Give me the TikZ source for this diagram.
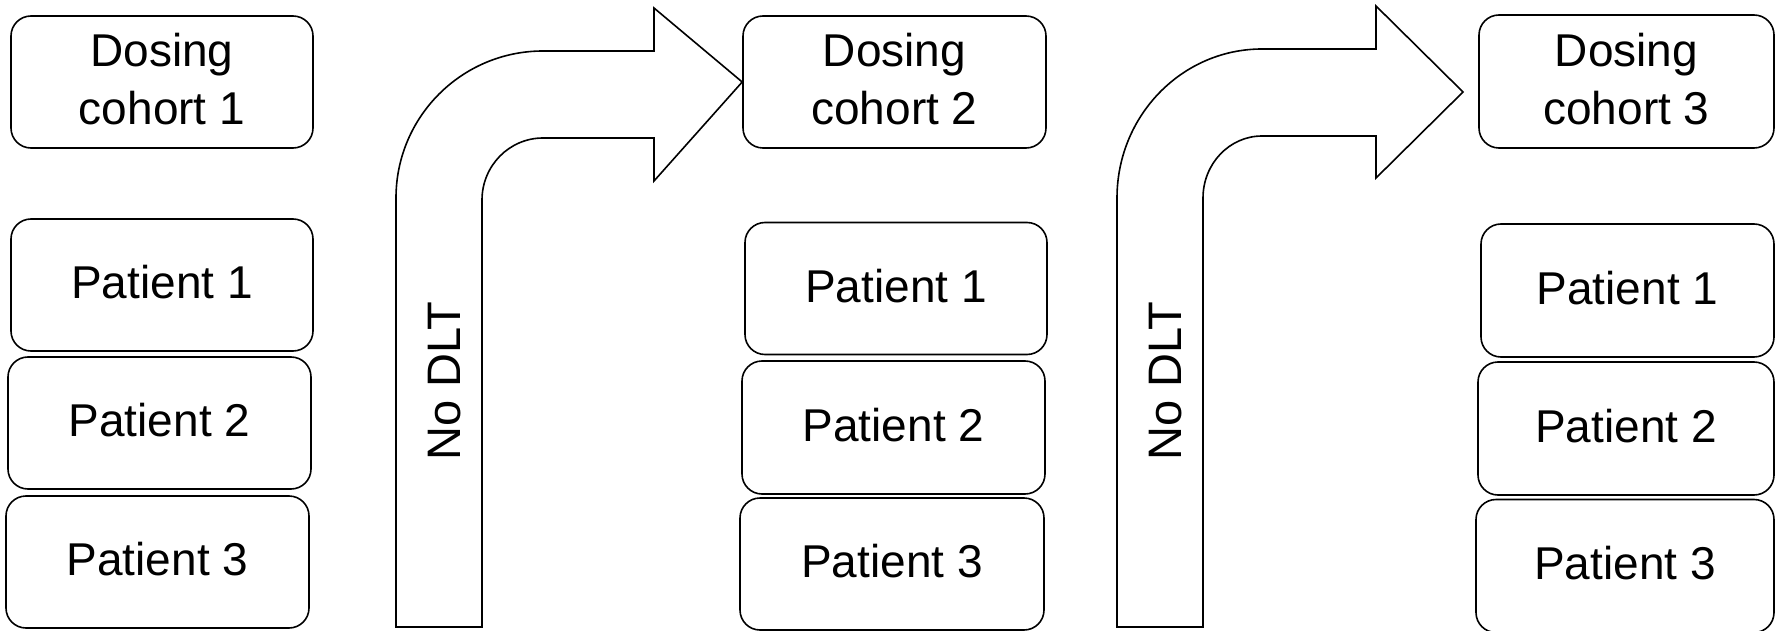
\documentclass[tikz,border=0pt]{standalone}
\usepackage{fontspec}
\setmainfont{Liberation Sans}
\begin{document}
\begin{tikzpicture}[x=1pt,y=-1pt,
  box/.style={draw=black,line width=1.6pt,rounded corners=20pt,inner sep=0pt,
    minimum width=302pt,minimum height=132pt,align=center,text depth=6pt,
    font=\fontsize{46}{58}\selectfont},
  bigarrow/.style={draw=black,line width=1.6pt,fill=white,line join=miter},
  lbl/.style={font=\fontsize{47}{58}\selectfont,rotate=90,inner sep=0pt}]
\useasboundingbox (0,0) rectangle (1775,631);
% column 1
\node[box] (d1) at (162,82) {Dosing\\cohort 1};
\node[box] (p11) at (162,285) {Patient 1};
\node[box,minimum width=303pt] (p12) at (159.5,423) {Patient 2};
\node[box,minimum width=303pt,minimum height=132pt] (p13) at (157.5,562) {Patient 3};
% column 2
\node[box,minimum width=303pt] (d2) at (894.5,82) {Dosing\\cohort 2};
\node[box] (p21) at (896,288.5) {Patient 1};
\node[box,minimum width=303pt,minimum height=133pt] (p22) at (893.5,427.5) {Patient 2};
\node[box,minimum width=304pt] (p23) at (892,564) {Patient 3};
% column 3
\node[box,minimum width=295pt,minimum height=133pt] (d3) at (1626.5,81.5) {Dosing\\cohort 3};
\node[box,minimum width=293pt,minimum height=133pt] (p31) at (1627.5,290.5) {Patient 1};
\node[box,minimum width=296pt,minimum height=133pt] (p32) at (1626,428.5) {Patient 2};
\node[box,minimum width=298pt,minimum height=133pt] (p33) at (1625,566) {Patient 3};
% arrow 1
\coordinate (a1tip) at (d2.west);
\draw[bigarrow] (396,627) -- (396,198)
  arc[start angle=180,end angle=90,x radius=147,y radius=-147]
  -- (654,51) -- (654,8) -- (a1tip) -- (654,181) -- (654,138) -- (543,138)
  arc[start angle=90,end angle=180,x radius=61,y radius=-62]
  -- (482,627) -- cycle;
\node[lbl] (n1) at (445,381) {No DLT};
% arrow 2
\coordinate (a2tip) at (1463,92);
\draw[bigarrow] (1117,627) -- (1117,198)
  arc[start angle=180,end angle=90,x radius=145,y radius=-149]
  -- (1376,49) -- (1376,6) -- (a2tip) -- (1376,178) -- (1376,136) -- (1262,136)
  arc[start angle=90,end angle=180,x radius=59,y radius=-62]
  -- (1203,627) -- cycle;
\node[lbl] (n2) at (1166,381) {No DLT};
\end{tikzpicture}
\end{document}
